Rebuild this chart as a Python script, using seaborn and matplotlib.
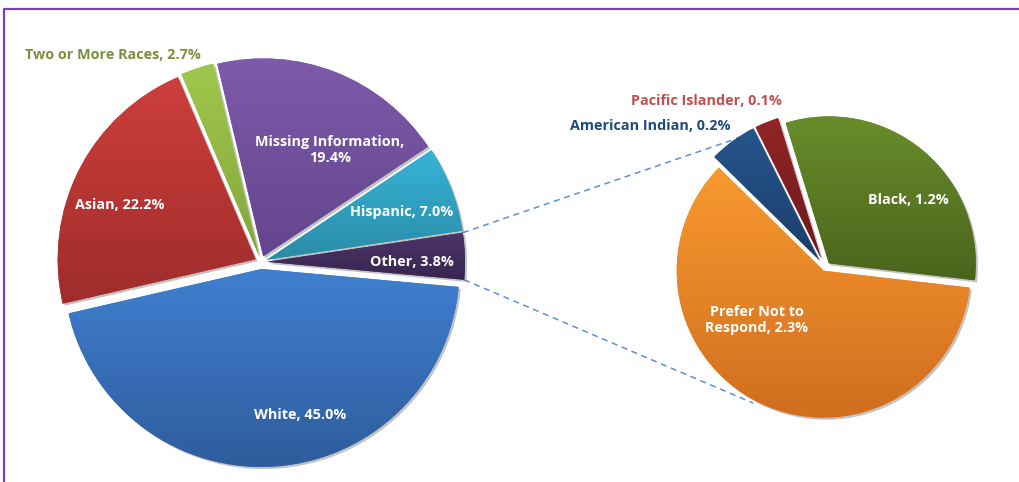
import numpy as np
import matplotlib.pyplot as plt
import matplotlib.patheffects as pe
from matplotlib.colors import LinearSegmentedColormap
import seaborn as sns

# main pie (counter-clockwise from the right)
main_labels = ['Other', 'Hispanic', 'Missing Information', 'Two or More Races', 'Asian', 'White']
main_values = [3.8, 7.0, 19.4, 2.7, 22.2, 45.0]

# breakdown of "Other"
sub_labels = ['Black', 'Pacific Islander', 'American Indian', 'Prefer Not to Respond']
sub_values = [1.2, 0.1, 0.2, 2.3]

# gradient colours, top -> bottom
main_top = ['#4b3569', '#37b3d7', '#7f5bab', '#a0c74c', '#cd3f3c', '#407fd0']
main_bot = ['#38254f', '#2a8ca7', '#63458d', '#84a63d', '#9f2c2c', '#2e5c9c']
sub_top = ['#698d2b', '#922525', '#26558d', '#f9992f']
sub_bot = ['#4a651c', '#6c1a1a', '#1b3e69', '#d16e1f']

sns.set_theme(style='white')
plt.rcParams['font.family'] = ['Open Sans', 'DejaVu Sans']

fig = plt.figure(figsize=(10.2, 4.82), dpi=100)
ax = fig.add_axes([0, 0, 1, 1])

H = 482
shadow = [pe.SimplePatchShadow(offset=(1.5, -1.5), alpha=0.35, shadow_rgbFace='#555555'), pe.Normal()]


def shade(wedges, tops, bots):
    grad = np.linspace(1, 0, 256).reshape(-1, 1)
    for w, t, b in zip(wedges, tops, bots):
        w.set_facecolor(t)
        w.set_path_effects(shadow)
        v = w.get_path().vertices
        cmap = LinearSegmentedColormap.from_list('g', [b, t])
        im = ax.imshow(grad, cmap=cmap, origin='upper', aspect='auto',
                       extent=[v[:, 0].min(), v[:, 0].max(), v[:, 1].min(), v[:, 1].max()],
                       zorder=w.get_zorder() + 0.1)
        im.set_clip_path(w)


# explode is in data units (pixels here)
c1 = (261, H - 262)
r1 = 198
w1, _ = ax.pie(main_values, startangle=-5.2, radius=r1, center=c1,
               explode=[6, 6, 6, 6, 6, 7], frame=True,
               wedgeprops=dict(linewidth=0))
shade(w1, main_top, main_bot)

c2 = (825, H - 268)
r2 = 147
w2, _ = ax.pie(sub_values, startangle=-6.6, radius=r2, center=c2,
               explode=[6, 10, 10, 3], frame=True,
               wedgeprops=dict(linewidth=0))
shade(w2, sub_top, sub_bot)

ax.set_xlim(0, 1020)
ax.set_ylim(0, 482)
ax.set_aspect('equal')
ax.axis('off')

# connector lines from the "Other" slice to the breakdown pie
ow = w1[0]
for th, th2 in [(ow.theta2, 118), (ow.theta1, 242)]:
    x0 = ow.center[0] + ow.r * np.cos(np.radians(th))
    y0 = ow.center[1] + ow.r * np.sin(np.radians(th))
    x1 = c2[0] + (r2 + 6) * np.cos(np.radians(th2))
    y1 = c2[1] + (r2 + 6) * np.sin(np.radians(th2))
    ax.plot([x0, x1], [y0, y1], ls=(0, (4, 3)), color='#5b8fd6', lw=1.1, zorder=0)

fs = 10.4
txt = dict(color='white', fontsize=fs, fontweight='bold', ha='center', va='center', zorder=5)
ax.text(300, H - 415, 'White, 45.0%', **txt)
ax.text(120, H - 205, 'Asian, 22.2%', **txt)
ax.text(330, H - 150, 'Missing Information,\n19.4%', linespacing=1.25, **txt)
ax.text(402, H - 212, 'Hispanic, 7.0%', **txt)
ax.text(412, H - 262, 'Other, 3.8%', **txt)
ax.text(908, H - 200, 'Black, 1.2%', **txt)
ax.text(757, H - 320, 'Prefer Not to\nRespond, 2.3%', linespacing=1.25, **txt)

ax.text(25, H - 55, 'Two or More Races, 2.7%', color='#76923c', fontsize=fs,
        fontweight='bold', ha='left', va='center')
ax.text(731, H - 126, 'American Indian, 0.2%', color='#1f497d', fontsize=fs,
        fontweight='bold', ha='right', va='center')
ax.text(706, H - 101, 'Pacific Islander, 0.1%', color='#c0504d', fontsize=fs,
        fontweight='bold', ha='center', va='center')

# purple frame
ax.plot([4, 4, 1020], [0, H - 9, H - 9], color='#7e3fbf', lw=1.6, clip_on=False)

fig.savefig('out.png', dpi=100)
